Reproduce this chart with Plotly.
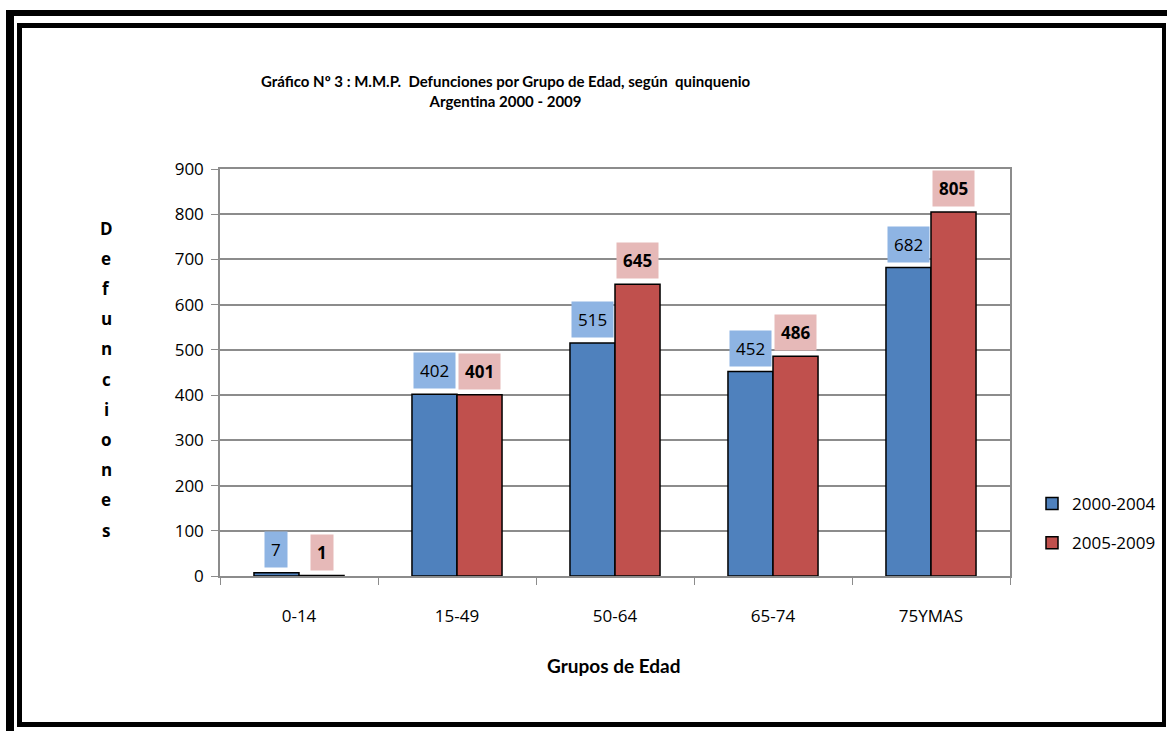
import plotly.graph_objects as go

categories = ["0-14", "15-49", "50-64", "65-74", "75YMAS"]
serie_2000_2004 = [7, 402, 515, 452, 682]
serie_2005_2009 = [1, 401, 645, 486, 805]
series_names = ["2000-2004", "2005-2009"]
y_ticks = [0, 100, 200, 300, 400, 500, 600, 700, 800, 900]
title_lines = ["Gráfico Nº 3 : M.M.P.  Defunciones por Grupo de Edad, según  quinquenio",
               "Argentina 2000 - 2009"]
y_title = "Defunciones"
x_title = "Grupos de Edad"

W, H = 1167, 731
L, R, T, B = 220, 1010, 169, 576
BARGAP = 0.43

def px(x):
    return (x - L) / (R - L)

def py(y):
    return (B - y) / (B - T)

FONT = "Open Sans, Noto Sans, sans-serif"
TITLE_FONT = "Lato, Open Sans, sans-serif"
BLUE, RED = "#4F81BD", "#C0504D"
BLUE_LBL, RED_LBL = "#8EB4E3", "#E6B9B8"

fig = go.Figure()
fig.add_trace(go.Bar(name=series_names[0], x=categories, y=serie_2000_2004,
                     marker=dict(color=BLUE, line=dict(color="black", width=1.5)),
                     legendgroup="a", hoverinfo="skip"))
fig.add_trace(go.Bar(name=series_names[1], x=categories, y=serie_2005_2009,
                     marker=dict(color=RED, line=dict(color="black", width=1.5)),
                     legendgroup="b", hoverinfo="skip"))

annotations = []
off = (1 - BARGAP) / 4
for i, (a, b) in enumerate(zip(serie_2000_2004, serie_2005_2009)):
    annotations.append(dict(x=i - off, y=a, xref="x", yref="y", text=str(a), showarrow=False,
                            yanchor="bottom", yshift=5, bgcolor=BLUE_LBL, borderpad=6,
                            font=dict(family=FONT, size=17, color="black")))
    annotations.append(dict(x=i + off, y=b, xref="x", yref="y", text="<b>%d</b>" % b, showarrow=False,
                            yanchor="bottom", yshift=5, bgcolor=RED_LBL, borderpad=6,
                            font=dict(family=FONT, size=17, color="black")))

# title
annotations.append(dict(x=px(505), y=py(91), xref="paper", yref="paper",
                        text="<b>" + title_lines[0] + "</b><br><b>" + title_lines[1] + "</b>",
                        showarrow=False, xanchor="center", yanchor="middle",
                        font=dict(family=TITLE_FONT, size=15, color="black")))
# x title
annotations.append(dict(x=px(613), y=py(665), xref="paper", yref="paper",
                        text="<b>" + x_title + "</b>", showarrow=False,
                        xanchor="center", yanchor="middle",
                        font=dict(family=TITLE_FONT, size=19, color="black")))
# y title letters (stacked)
for k, ch in enumerate(y_title):
    annotations.append(dict(x=px(106), y=py(228 + 30.2 * k), xref="paper", yref="paper",
                            text="<b>" + ch + "</b>", showarrow=False,
                            xanchor="center", yanchor="middle",
                            font=dict(family=FONT, size=17, color="black")))

def rect(x0, y0, x1, y1, color="black"):
    return dict(type="rect", xref="paper", yref="paper",
                x0=px(x0), x1=px(x1), y0=py(y0), y1=py(y1),
                fillcolor=color, line=dict(width=0), layer="above")

shapes = [
    # outer frame (cropped at right/bottom)
    rect(6, 10, 14, 731),
    rect(6, 10, 1167, 16),
    # inner frame
    rect(17, 23, 22, 727),
    rect(17, 23, 1166, 28),
    rect(1162, 23, 1166, 727),
    rect(17, 722, 1166, 727),
]

fig.update_layout(
    width=W, height=H,
    margin=dict(l=L, r=W - R, t=T, b=H - B, autoexpand=False),
    paper_bgcolor="white", plot_bgcolor="white",
    barmode="group", bargap=BARGAP, bargroupgap=0,
    font=dict(family=FONT, size=17, color="black"),
    annotations=annotations, shapes=shapes,
    legend=dict(x=px(1032), y=py(486), xanchor="left", yanchor="top",
                font=dict(family=FONT, size=17, color="black"),
                tracegroupgap=14, bgcolor="rgba(0,0,0,0)"),
    showlegend=True,
    hovermode=False,
)
fig.update_xaxes(showline=True, linecolor="#8c8c8c", linewidth=1.5, mirror=True,
                 ticks="outside", ticklen=7, tickcolor="#8c8c8c", tickson="boundaries",
                 showgrid=False, tickfont=dict(family=FONT, size=17, color="black"),
                 ticklabelstandoff=24)
fig.update_yaxes(range=[0, 900], tickvals=y_ticks, showline=True, linecolor="#8c8c8c",
                 linewidth=1.5, mirror=True, ticks="outside", ticklen=7, tickcolor="#8c8c8c",
                 showgrid=True, gridcolor="#8c8c8c", gridwidth=1.5, zeroline=False,
                 tickfont=dict(family=FONT, size=17, color="black"), ticklabelstandoff=4)

fig.write_html("out.html", config={"displayModeBar": False},
               post_script="document.body.style.margin='0';")
